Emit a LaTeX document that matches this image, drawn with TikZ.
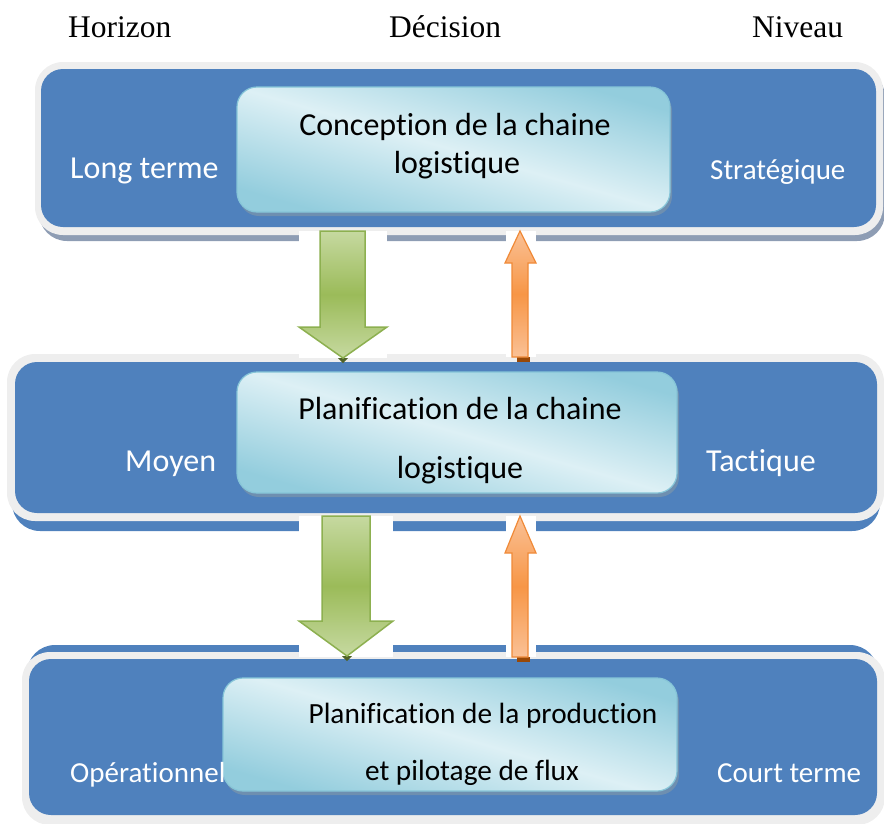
\documentclass[tikz,border=0pt]{standalone}
\usepackage{fontspec}
\setmainfont{Carlito}[Ligatures={NoCommon,NoContextual,NoRequired}]
\newfontfamily\timesf{Liberation Serif}
\definecolor{bandblue}{HTML}{4F81BD}
\definecolor{bandgray}{HTML}{EEEEEE}
\definecolor{shadowgb}{HTML}{8E9DB4}
\definecolor{cdark}{HTML}{93CDDD}
\definecolor{clight}{HTML}{DDF0F5}
\definecolor{boxborder}{HTML}{86C5D8}
\definecolor{boxshadow}{HTML}{6E8FB0}
\definecolor{glight}{HTML}{C6D9A0}
\definecolor{gmid}{HTML}{9BBB59}
\definecolor{gborder}{HTML}{8DB050}
\definecolor{olight}{HTML}{FAC196}
\definecolor{omid}{HTML}{F79646}
\definecolor{oborder}{HTML}{F08A38}
\definecolor{obrown}{HTML}{984807}
\definecolor{gdark}{HTML}{4F6228}
\tikzset{
  outergray/.style={fill=bandgray, rounded corners=28pt},
  innerblue/.style={fill=bandblue, rounded corners=22pt},
  bshadow/.style={fill=shadowgb, rounded corners=28pt},
  bshadowblue/.style={fill=bandblue, rounded corners=28pt},
  decbox/.style={draw=boxborder, line width=1.2pt, rounded corners=20pt,
    top color=cdark, bottom color=cdark, middle color=clight, shading angle=-16},
  decshadow/.style={fill=boxshadow, rounded corners=20pt},
  greenarrow/.style={draw=gborder, line width=1.5pt, line join=miter,
    top color=glight, bottom color=glight, middle color=gmid},
  orangearrow/.style={draw=oborder, line width=1.2pt, line join=miter,
    top color=olight, bottom color=olight, middle color=omid},
  whitebg/.style={fill=white},
  wlab/.style={text=white, inner sep=0pt, anchor=base west, font=\fontsize{32}{38}\selectfont},
  wlabs/.style={text=white, inner sep=0pt, anchor=base west, font=\fontsize{29}{35}\selectfont},
  blab/.style={text=black, inner sep=0pt, anchor=base, font=\fontsize{32}{38}\selectfont},
  blabs/.style={text=black, inner sep=0pt, anchor=base, font=\fontsize{29.3}{35}\selectfont},
  hlab/.style={text=black, inner sep=0pt, anchor=base west, font=\timesf\fontsize{31.5}{38}\selectfont},
}
\begin{document}
\begin{tikzpicture}[x=1pt,y=-1pt]
\useasboundingbox (0,0) rectangle (884,823);
% headers
\node[hlab] (hhor) at (68,37) {Horizon};
\node[hlab] (hdec) at (389,37) {Décision};
\node[hlab] (hniv) at (752,37) {Niveau};
% band 1
\path[bshadow] (39,69) rectangle (885,241);
\path[outergray] (35,62) rectangle (883,235);
\path[innerblue] (41,69) rectangle (876,227);
% band 2
\path[bshadowblue] (12,362) rectangle (880,531);
\path[outergray] (7,354) rectangle (884,521);
\path[innerblue] (15,362) rectangle (877,513);
% band 3
\path[bshadowblue] (27,645) rectangle (878,815);
\path[outergray] (22,652) rectangle (885,825);
\path[innerblue] (29,659) rectangle (877,815);
% decision boxes
\path[decshadow] (239,91) rectangle (672,216);
\path[decbox] (237,87) rectangle (670,212);
\path[decshadow] (239,376) rectangle (679,497);
\path[decshadow] (225,682) rectangle (679,795);
\path[decbox] (237,372) rectangle (677,493);
\path[decbox] (223,678) rectangle (677,791);
% white backgrounds of arrows
\path[whitebg] (299,231) rectangle (387,358);
\path[whitebg] (506,231) rectangle (536,357);
\path[whitebg] (299,516) rectangle (393,657);
\path[whitebg] (506,516) rectangle (536,657);
% arrows level 1-2
\fill[gdark] (338,358) -- (348,358) -- (343,363) -- cycle;
\path[greenarrow] (320,231) -- (365,231) -- (365,327) -- (387,327) -- (343,358) -- (299,327) -- (320,327) -- cycle;
\fill[obrown] (517,357) rectangle (530,362);
\path[orangearrow] (520,231) -- (536,263) -- (528,263) -- (528,357) -- (512,357) -- (512,263) -- (505,263) -- cycle;
% arrows level 2-3
\fill[gdark] (342,656) -- (352,656) -- (347,661) -- cycle;
\path[greenarrow] (322,516) -- (370,516) -- (370,621) -- (393,621) -- (347,656) -- (299,621) -- (322,621) -- cycle;
\fill[obrown] (517,657) rectangle (530,662);
\path[orangearrow] (520,516) -- (536,553) -- (528,553) -- (528,657) -- (512,657) -- (512,553) -- (505,553) -- cycle;
% band 1 texts
\node[wlab] (lt) at (70,178) {Long terme};
\node[wlabs] (strat) at (710,179) {Stratégique};
\node[blab] (c1a) at (455,135) {Conception de la chaine};
\node[blab] (c1b) at (457,173) {logistique};
% band 2 texts
\node[wlab] (moy) at (125,471) {Moyen};
\node[wlab] (tact) at (706,471) {Tactique};
\node[blab] (c2a) at (460,419) {Planification de la chaine};
\node[blab] (c2b) at (460,478) {logistique};
% band 3 texts
\node[wlabs] (oper) at (70,782) {Opérationnel};
\node[wlabs] (ct) at (717,782) {Court terme};
\node[blabs] (c3a) at (483,723) {Planification de la production};
\node[blabs] (c3b) at (472,780) {et pilotage de flux};
\end{tikzpicture}
\end{document}
